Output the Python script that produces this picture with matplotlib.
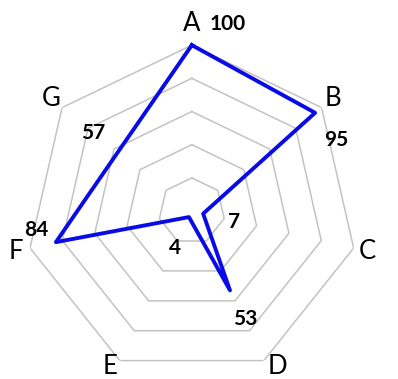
import numpy as np
import matplotlib.pyplot as plt

categories = ["A", "B", "C", "D", "E", "F", "G"]
values = [100, 95, 7, 53, 4, 84, 57]
rings = [20, 40, 60, 80, 100]
# label offsets (pixels) for each data label
label_offsets = [(36, 21), (21, -27), (31, -8), (15, -29), (-14, -31), (-20, 12), (-25, 19)]
# pixel nudges for category labels
cat_offsets = [(0, 8), (0, 0), (0, 0), (7, 7), (-4, 7), (0, 0), (0, 0)]

plt.rcParams['font.family'] = ['Lato', 'DejaVu Sans']

n = len(categories)
angles = np.arange(n) * 2 * np.pi / n
closed = np.append(angles, angles[0])

fig = plt.figure(figsize=(3.98, 3.79), dpi=100)
ax = fig.add_axes([0.065, 0.005, 0.834, 0.876], projection='polar')
ax.set_theta_zero_location('N')
ax.set_theta_direction(-1)
ax.set_ylim(0, 100)
ax.grid(False)
ax.spines['polar'].set_visible(False)
ax.set_xticks([])
ax.set_yticks([])

for r in rings:
    ax.plot(closed, [r] * (n + 1), color='#c3c3c3', lw=1.1, zorder=1)

ax.plot(closed, values + [values[0]], color='#0a0ae6', lw=2.8, zorder=3, clip_on=False)

for a, v, off in zip(angles, values, label_offsets):
    ax.annotate(str(v), xy=(a, v), xytext=off, textcoords='offset pixels',
                ha='center', va='center', fontsize=15, fontweight='bold', color='black')

for a, c, off in zip(angles, categories, cat_offsets):
    ax.annotate(c, xy=(a, 108.5), xytext=off, textcoords='offset pixels',
                ha='center', va='center', fontsize=18.5, color='black', annotation_clip=False)

fig.savefig('out.png', dpi=100)
